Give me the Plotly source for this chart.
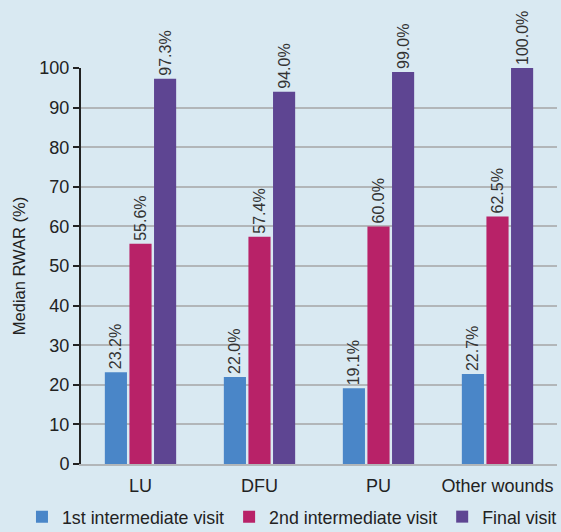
import plotly.graph_objects as go

categories = ["LU", "DFU", "PU", "Other wounds"]
first_visit = [23.2, 22.0, 19.1, 22.7]
second_visit = [55.6, 57.4, 60.0, 62.5]
final_visit = [97.3, 94.0, 99.0, 100.0]
series_names = ["1st intermediate visit", "2nd intermediate visit", "Final visit"]
colors = ["#4a86c8", "#b82268", "#5e4592"]

fig = go.Figure()
for name, vals, col in zip(series_names, [first_visit, second_visit, final_visit], colors):
    fig.add_trace(go.Bar(
        x=categories, y=vals, name=name, marker_color=col, marker_line_width=0,
        text=[f"{v:.1f}%" for v in vals], textposition="outside", textangle=-90,
        constraintext="none", cliponaxis=False,
        textfont=dict(size=16, color="#333333"),
    ))

bg = "#d9e9f2"
fig.update_layout(
    width=561, height=532,
    paper_bgcolor=bg, plot_bgcolor=bg,
    font=dict(family="Liberation Sans, Arial, sans-serif", color="#222222"),
    margin=dict(l=81, r=4, t=68, b=68, autoexpand=False),
    barmode="group", bargap=0.38, bargroupgap=0.1,
    showlegend=True,
    legend=dict(orientation="h", x=-0.124, xanchor="left", y=-0.134, yanchor="middle",
                font=dict(size=17.8), bgcolor="rgba(0,0,0,0)", itemwidth=30,
                tracegroupgap=0),
    yaxis=dict(range=[0, 100], dtick=10, showgrid=True, gridcolor="#b2b6b9", gridwidth=1.5,
               showline=True, linecolor="#222222", linewidth=2,
               ticks="outside", ticklen=6, tickwidth=2, tickcolor="#222222",
               tickfont=dict(size=18),
               title=dict(text="Median RWAR (%)", font=dict(size=16.5), standoff=10),
               zeroline=False),
    xaxis=dict(showline=True, linecolor="#b2b6b9", linewidth=2, tickfont=dict(size=18),
               ticks="", ticklabelstandoff=4),
)

fig.write_html("out.html")
